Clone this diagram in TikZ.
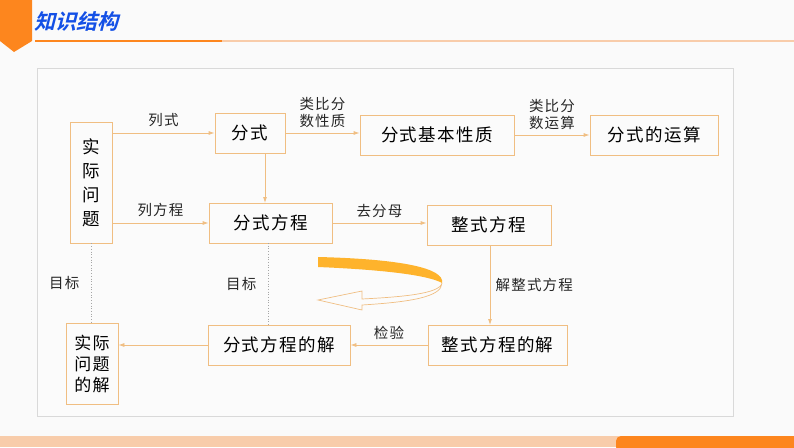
\documentclass[tikz,border=0pt]{standalone}
\usepackage{fontspec}
\setmainfont{Noto Sans CJK SC}[LetterSpace=8]
\newfontfamily\cjkb{Noto Sans CJK SC Bold}
\usetikzlibrary{arrows.meta}
\definecolor{bx}{RGB}{240,190,130}
\definecolor{org}{RGB}{253,134,30}
\definecolor{lorg}{RGB}{248,204,170}
\definecolor{ttl}{RGB}{20,80,230}
\tikzset{
 bx/.style={draw=bx,line width=0.8pt,fill=white!97!gray,minimum height=40pt,font=\fontsize{17.5}{20}\selectfont,inner sep=2pt},
 lb/.style={font=\fontsize{14.5}{17}\selectfont,align=center,text=black!85},
 ar/.style={draw=bx,line width=0.8pt,-{Latex[length=6pt,width=4pt]}},
 dt/.style={draw=black!35,dotted,line width=0.7pt}
}
\begin{document}
\begin{tikzpicture}[x=1pt,y=-1pt]
\fill[white!96!gray] (0,0) rectangle (794,447);
\useasboundingbox (0,0) rectangle (794,447);
% header
\fill[org] (0,0) -- (32,0) -- (32,41) -- (14,52) -- (0,41) -- cycle;
\draw[org,line width=1.4pt] (35,41) -- (222,41);
\draw[lorg,line width=1.4pt] (222,41) -- (794,41);
\node[anchor=west,text=ttl,font=\cjkb\fontsize{21}{24}\selectfont,xslant=0.25,inner sep=0pt] (title) at (36,22) {知识结构};
% frame
\draw[black!15,line width=0.6pt,fill=white!97!gray] (37,68) rectangle (733,416);
% bottom bar
\fill[lorg] (0,436) rectangle (794,447);
\fill[org,rounded corners=5pt] (616,436) rectangle (800,452);
% boxes
\node[bx,minimum width=42pt,minimum height=121pt,align=center,font=\fontsize{17.5}{24}\selectfont] (sj) at (91,182.5) {实\\际\\问\\题};
\node[bx,minimum width=70pt] (fs) at (250,133) {分式};
\node[bx,minimum width=154pt] (xz) at (437,135) {分式基本性质};
\node[bx,minimum width=128pt] (ys) at (654,135) {分式的运算};
\node[bx,minimum width=123pt] (fc) at (270.5,223) {分式方程};
\node[bx,minimum width=124pt] (zc) at (489,225) {整式方程};
\node[bx,minimum width=52pt,minimum height=81pt,align=center,font=\fontsize{17}{21}\selectfont,inner sep=1pt] (sjj) at (92,363.5) {实际\\问题\\的解};
\node[bx,minimum width=142pt] (fj) at (279,345) {分式方程的解};
\node[bx,minimum width=139pt] (zj) at (497.5,345) {整式方程的解};
% arrows
\draw[ar] (sj.east |- fs) -- node[lb,above=3pt]{列式} (fs);
\draw[ar] (sj.east |- fc) -- node[lb,above=3pt]{列方程} (fc);
\draw[ar] (fs.east) -- (fs.east -| xz.west) node[lb,midway,above=2pt]{类比分\\数性质};
\draw[ar] (xz.east) -- (ys.west) node[lb,midway,above=2pt]{类比分\\数运算};
\draw[ar] (fs.south -| 265,0) -- (265,203);
\draw[ar] (fc.east) -- node[lb,above=2pt]{去分母} (fc.east -| zc.west);
\draw[ar] (490,245) -- node[lb,right=2pt]{解整式方程} (490,325);
\draw[ar] (zj) -- node[lb,above=2pt]{检验} (fj);
\draw[ar] (fj) -- (fj -| sjj.east);
\draw[dt] (sj.south) -- node[lb,left=8pt]{目标} (sj.south |- sjj.north);
\draw[dt] (268,243) -- node[lb,left=8pt]{目标} (268,325);
% curved arrow
\fill[org!70!yellow!90!white] (318,257) .. controls (400,259) and (445,268) .. (442,283)
  .. controls (430,276) and (390,270) .. (318,267) -- cycle;
\draw[bx,fill=white!97!gray,line width=0.7pt] (442,283) .. controls (440,294) and (400,297) .. (362,299)
  -- (362,291) -- (318,300) -- (362,310) -- (362,305) .. controls (410,302) and (442,297) .. (442,283);
\end{tikzpicture}
\end{document}
